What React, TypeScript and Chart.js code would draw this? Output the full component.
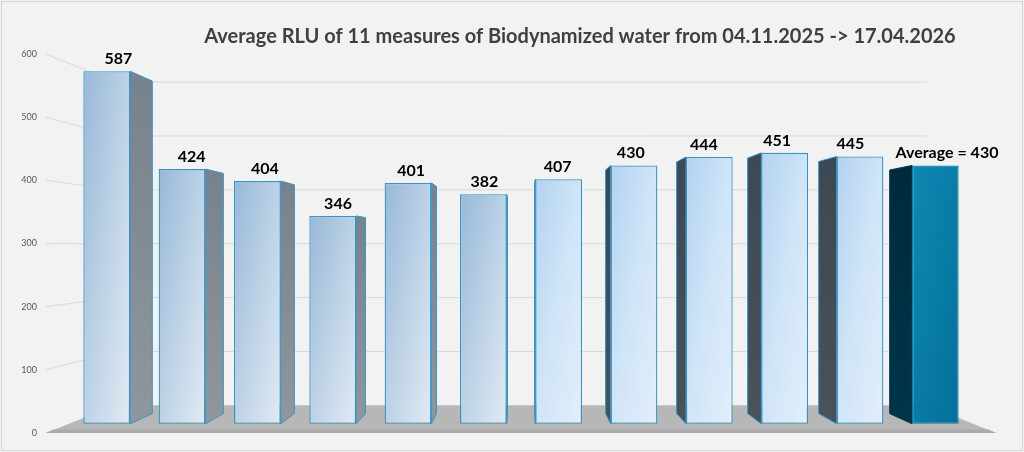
import { useEffect, useRef } from "react";
import { Chart, registerables } from "chart.js";

Chart.register(...registerables);

// ---------- data ----------
const categories = [
  "Measure 1", "Measure 2", "Measure 3", "Measure 4", "Measure 5", "Measure 6",
  "Measure 7", "Measure 8", "Measure 9", "Measure 10", "Measure 11", "Average",
];
const measureValues = [587, 424, 404, 346, 401, 382, 407, 430, 444, 451, 445];
const averageValue = 430;
const yTickValues = [0, 100, 200, 300, 400, 500, 600];
const chartTitle =
  "Average RLU of 11 measures of Biodynamized water from 04.11.2025 -> 17.04.2026";
const averageLabelText = `Average = ${averageValue}`;

// ---------- 3D look (perspective factors) ----------
const VANISH_VALUE = 297.6;
const BAR_PLANE = 0.951;
const BAR_DEPTH = 0.943;
const BACK_WALL = 0.853;
const BAR_PCT = 0.62;
const FONT = "Lato, 'Open Sans', sans-serif";

const SHADE_FRONT: [number, string][] = [
  [0, "#97b8d8"],
  [0.5, "#bdd2e6"],
  [1, "#e1eaf3"],
];
const LIGHT_FRONT: [number, string][] = [
  [0, "#b2d2f0"],
  [0.5, "#d0e5f8"],
  [1, "#e3eef9"],
];
const AVG_FRONT: [number, string][] = [
  [0, "#0e88b4"],
  [1, "#03709a"],
];

function diagGradient(
  ctx: CanvasRenderingContext2D,
  L: number,
  T: number,
  R: number,
  B: number,
  stops: [number, string][]
) {
  const w = Math.max(R - L, 1);
  const h = Math.max(B - T, 1);
  const lam = 2 / (1 / (w * w) + 1 / (h * h));
  const g = ctx.createLinearGradient(L, T, L + lam / w, T + lam / h);
  stops.forEach(([o, c]) => g.addColorStop(o, c));
  return g;
}

function scene(chart: any) {
  const ca = chart.chartArea;
  const ys = chart.scales.y;
  const vpX = (ca.left + ca.right) / 2;
  const vpY = ys.getPixelForValue(VANISH_VALUE);
  const fL = vpX + (ca.left - vpX) / BAR_PLANE;
  const fR = vpX + (ca.right - vpX) / BAR_PLANE;
  const bL = vpX + BACK_WALL * (fL - vpX);
  const bR = vpX + BACK_WALL * (fR - vpX);
  const backY = (v: number) => vpY + BACK_WALL * (ys.getPixelForValue(v) - vpY);
  return { ca, ys, vpX, vpY, fL, fR, bL, bR, backY };
}

export default function App() {
  const ref = useRef<HTMLCanvasElement>(null);

  useEffect(() => {
    const canvas = ref.current;
    if (!canvas) return;
    const values = [...measureValues, averageValue];
    const avgIndex = measureValues.length;
    const yMin = yTickValues[0];
    const yMax = yTickValues[yTickValues.length - 1];
    const barMin = VANISH_VALUE + (yMin - VANISH_VALUE) / BAR_PLANE;
    const barMax = VANISH_VALUE + (yMax - VANISH_VALUE) / BAR_PLANE;

    const scenePlugin = {
      id: "scene3d",
      beforeDraw(chart: any) {
        const ctx: CanvasRenderingContext2D = chart.ctx;
        const { width, height } = chart;
        ctx.save();
        ctx.fillStyle = "#f2f2f2";
        ctx.fillRect(0, 0, width, height);
        ctx.strokeStyle = "#d6d6d6";
        ctx.lineWidth = 1;
        ctx.strokeRect(1.5, 1.5, width - 3, height - 3);

        const s = scene(chart);
        ctx.strokeStyle = "#d9d9d9";
        ctx.lineWidth = 1;
        yTickValues.forEach((v) => {
          if (v === yMin) return;
          const yf = s.ys.getPixelForValue(v);
          const yb = s.backY(v);
          ctx.beginPath();
          ctx.moveTo(s.fL, yf);
          ctx.lineTo(s.bL, yb);
          ctx.lineTo(s.bR, yb);
          ctx.stroke();
        });
        const y0f = s.ys.getPixelForValue(yMin);
        const y0b = s.backY(yMin);
        ctx.fillStyle = "#b7b7b7";
        ctx.beginPath();
        ctx.moveTo(s.fL, y0f);
        ctx.lineTo(s.fR, y0f);
        ctx.lineTo(s.bR, y0b);
        ctx.lineTo(s.bL, y0b);
        ctx.closePath();
        ctx.fill();
        ctx.fillStyle = "#aaaaaa";
        ctx.beginPath();
        ctx.moveTo(s.fL + 8, y0f - 3.5);
        ctx.lineTo(s.fR - 8, y0f - 3.5);
        ctx.lineTo(s.fR, y0f);
        ctx.lineTo(s.fL, y0f);
        ctx.closePath();
        ctx.fill();
        ctx.restore();
      },
      beforeDatasetsDraw(chart: any) {
        const ctx: CanvasRenderingContext2D = chart.ctx;
        const s = scene(chart);
        const meta = chart.getDatasetMeta(0);
        ctx.save();
        meta.data.forEach((el: any, i: number) => {
          const { x, y, base, width } = el.getProps(["x", "y", "base", "width"], true);
          const L = x - width / 2;
          const R = x + width / 2;
          let edge: number | null = null;
          let rightSide = false;
          if (R < s.vpX) {
            edge = R;
            rightSide = true;
          } else if (L > s.vpX) {
            edge = L;
          }
          if (edge === null) return;
          const ex = s.vpX + BAR_DEPTH * (edge - s.vpX);
          const eT = s.vpY + BAR_DEPTH * (y - s.vpY);
          const eB = s.vpY + BAR_DEPTH * (base - s.vpY);
          const g = ctx.createLinearGradient(0, y, 0, base);
          if (i === avgIndex) {
            g.addColorStop(0, "#002a3b");
            g.addColorStop(1, "#00354a");
          } else if (rightSide) {
            g.addColorStop(0, "#76828d");
            g.addColorStop(1, "#90969d");
          } else {
            g.addColorStop(0, "#3c4853");
            g.addColorStop(1, "#4a5259");
          }
          ctx.beginPath();
          ctx.moveTo(edge, y);
          ctx.lineTo(ex, eT);
          ctx.lineTo(ex, eB);
          ctx.lineTo(edge, base);
          ctx.closePath();
          ctx.fillStyle = g;
          ctx.fill();
          ctx.strokeStyle = i === avgIndex ? "#00384f" : "#3a94c3";
          ctx.lineWidth = 1;
          ctx.stroke();
        });
        ctx.restore();
      },
      afterDatasetsDraw(chart: any) {
        const ctx: CanvasRenderingContext2D = chart.ctx;
        const s = scene(chart);
        const meta = chart.getDatasetMeta(0);
        ctx.save();
        ctx.font = `bold 16px ${FONT}`;
        ctx.fillStyle = "#000000";
        ctx.textAlign = "center";
        ctx.textBaseline = "alphabetic";
        const mid = (1 + BAR_DEPTH) / 2;
        meta.data.forEach((el: any, i: number) => {
          const { x, y, width } = el.getProps(["x", "y", "width"], true);
          const text = i === avgIndex ? averageLabelText : String(values[i]);
          let tx = s.vpX + mid * (x - s.vpX);
          if (i === avgIndex) tx = x + width / 4;
          ctx.fillText(text, tx, y - 7);
        });
        ctx.font = `bold 20px ${FONT}`;
        ctx.fillStyle = "#404040";
        ctx.fillText(chartTitle, 580, 43);
        ctx.restore();
      },
    };

    const chart = new Chart(canvas, {
      type: "bar",
      data: {
        labels: categories,
        datasets: [
          {
            label: "RLU",
            data: values,
            yAxisID: "yBar",
            barPercentage: BAR_PCT,
            categoryPercentage: 1,
            borderWidth: 1.3,
            borderSkipped: false,
            borderColor: (c: any) => (c.dataIndex === avgIndex ? "#0a7ca6" : "#3a94c3"),
            backgroundColor: (c: any) => {
              const chart = c.chart;
              const ca = chart.chartArea;
              if (!ca || c.type !== "data") return "#bcd3e8";
              const i = c.dataIndex;
              const xs = chart.scales.x;
              const yb = chart.scales.yBar;
              const cx = xs.getPixelForValue(i);
              const half = ((ca.right - ca.left) / values.length) * BAR_PCT / 2;
              const T = yb.getPixelForValue(values[i]);
              const B = yb.getPixelForValue(0);
              const vpX = (ca.left + ca.right) / 2;
              const stops =
                i === avgIndex ? AVG_FRONT : cx > vpX ? LIGHT_FRONT : SHADE_FRONT;
              return diagGradient(chart.ctx, cx - half, T, cx + half, B, stops);
            },
          },
        ],
      },
      options: {
        responsive: true,
        maintainAspectRatio: false,
        animation: false,
        layout: { padding: { left: 8, right: 51, top: 54, bottom: 19 } },
        plugins: {
          legend: { display: false },
          title: { display: false },
          tooltip: { enabled: false },
        },
        scales: {
          x: { display: false, offset: true },
          y: {
            position: "left",
            min: yMin,
            max: yMax,
            afterFit: (sc: any) => {
              sc.width = 61;
              sc.paddingTop = 0;
              sc.paddingBottom = 0;
            },
            afterBuildTicks: (sc: any) => {
              sc.ticks = yTickValues.map((v) => ({ value: v }));
            },
            grid: { display: false, drawTicks: false },
            border: { display: false },
            ticks: {
              padding: 32,
              color: "#595959",
              font: { family: FONT, size: 9 },
              callback: (v: any) => String(v),
            },
          },
          yBar: {
            display: false,
            min: barMin,
            max: barMax,
          },
        },
      },
      plugins: [scenePlugin],
    });

    return () => chart.destroy();
  }, []);

  return (
    <div style={{ position: "fixed", left: 0, top: 0, width: 1024, height: 452 }}>
      <canvas ref={ref} />
    </div>
  );
}
